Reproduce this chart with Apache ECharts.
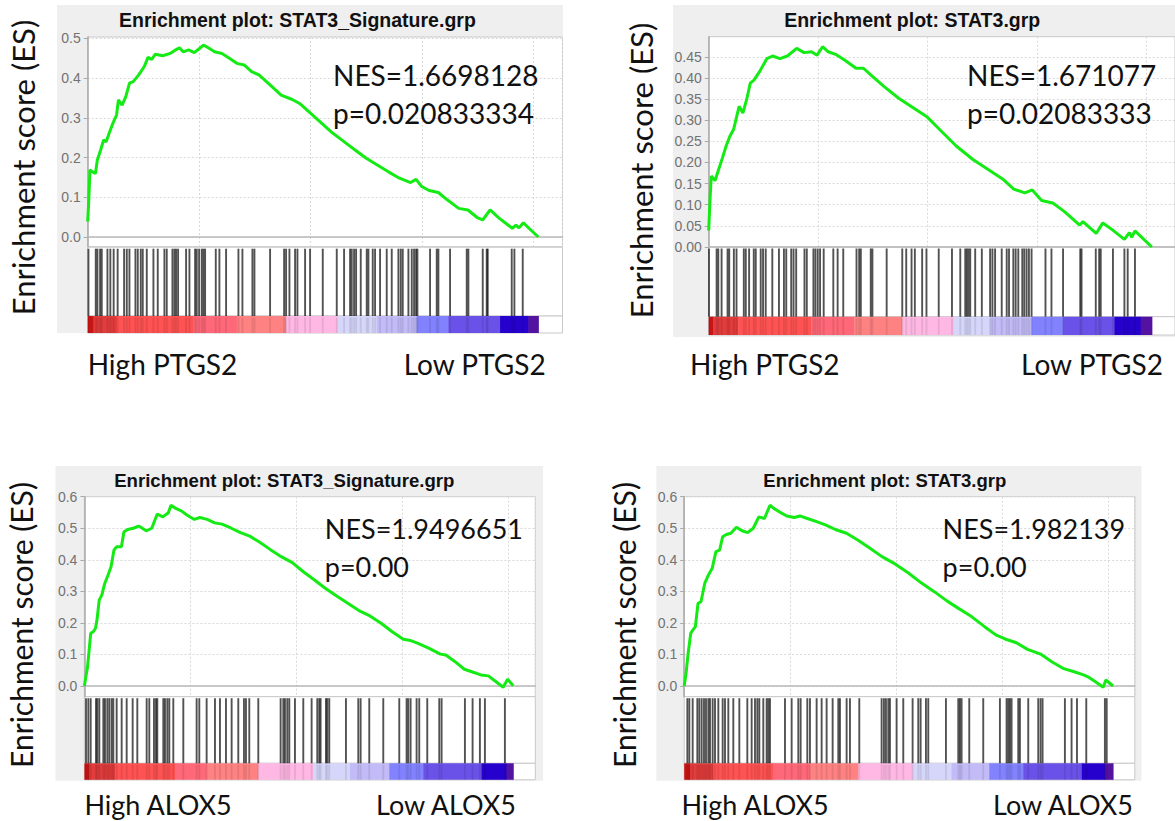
<!DOCTYPE html>
<html><head><meta charset="utf-8">
<script src="https://cdn.jsdelivr.net/npm/echarts@6/dist/echarts.min.js"></script>
<style>html,body{margin:0;padding:0;background:#fff}#c{width:1175px;height:821px}</style>
</head><body><div id="c"></div>
<script>
// ---------------- DATA ----------------
const p1Title = 'Enrichment plot: STAT3_Signature.grp';
const p2Title = 'Enrichment plot: STAT3.grp';
const p3Title = 'Enrichment plot: STAT3_Signature.grp';
const p4Title = 'Enrichment plot: STAT3.grp';
const yLabel = 'Enrichment score (ES)';
const p1Stats = ['NES=1.6698128', 'p=0.020833334'];
const p2Stats = ['NES=1.671077', 'p=0.02083333'];
const p3Stats = ['NES=1.9496651', 'p=0.00'];
const p4Stats = ['NES=1.982139', 'p=0.00'];
const topEnds = ['High PTGS2', 'Low PTGS2'];
const botEnds = ['High ALOX5', 'Low ALOX5'];

const p1YTicks = [0, 0.1, 0.2, 0.3, 0.4, 0.5];
const p2YTicks = [0, 0.05, 0.10, 0.15, 0.20, 0.25, 0.30, 0.35, 0.40, 0.45];
const p3YTicks = [0, 0.1, 0.2, 0.3, 0.4, 0.5, 0.6];
const p4YTicks = [0, 0.1, 0.2, 0.3, 0.4, 0.5, 0.6];

// running enrichment score: gene rank and ES
const p1Rank = [0,50,100,216,349,432,581,714,830,963,1129,1295,1378,1544,1710,1876,2042,2291,2540,2706,2872,3038,3370,3702,3951,4117,4283,4532,4781,5030,5196,5445,5694,6026,6358,6690,7022,7354,7686,8184,8682,9180,9512,10010,10508,11006,11504,12002,12500,12998,13496,13994,14492,14741,14990,15322,15737,16152,16650,17065,17480,17729,18061,18476,19057,19223,19356,19555,19804,20227];
const p1ES = [0.039,0.093,0.169,0.164,0.16,0.194,0.219,0.244,0.24,0.261,0.286,0.307,0.345,0.332,0.353,0.387,0.391,0.408,0.429,0.452,0.447,0.46,0.456,0.462,0.471,0.476,0.466,0.471,0.464,0.475,0.483,0.475,0.466,0.462,0.45,0.437,0.433,0.416,0.408,0.383,0.357,0.346,0.336,0.311,0.286,0.261,0.24,0.219,0.198,0.181,0.164,0.148,0.137,0.145,0.127,0.117,0.112,0.093,0.072,0.068,0.049,0.043,0.068,0.047,0.022,0.03,0.023,0.036,0.022,0];

const p2Rank = [0,68,119,288,458,628,797,967,1136,1391,1560,1730,1900,2069,2323,2663,2917,3256,3596,4020,4359,4698,4952,5206,5461,5800,6224,6733,7072,7496,8005,8684,9362,9955,10634,11312,12075,12754,13432,13941,14450,14789,15213,15722,15968,16272,16954,17104,17709,18013,18467,18998,19225,19330,19480,20253];
const p2ES = [0.039,0.121,0.168,0.157,0.184,0.211,0.239,0.262,0.278,0.333,0.317,0.348,0.388,0.395,0.415,0.446,0.452,0.446,0.452,0.47,0.46,0.462,0.454,0.474,0.462,0.456,0.442,0.423,0.423,0.403,0.38,0.352,0.329,0.309,0.274,0.239,0.207,0.184,0.161,0.137,0.128,0.135,0.110,0.104,0.095,0.083,0.052,0.06,0.032,0.057,0.04,0.018,0.034,0.023,0.038,0];

const p3Rank = [0,70,140,209,297,419,524,593,698,820,960,1117,1256,1396,1518,1745,1867,2042,2303,2565,2914,3176,3438,3699,3961,4083,4310,4572,4834,5183,5444,5793,6142,6491,6928,7364,7800,8236,8760,9283,9807,10330,10854,11377,11901,12424,12948,13471,13995,14518,15042,15391,15740,16263,16787,17049,17485,17921,18270,18704,19055,19404,19754,19963,20229];
const p3ES = [0,0.03,0.056,0.103,0.167,0.172,0.183,0.209,0.272,0.288,0.325,0.352,0.378,0.431,0.441,0.441,0.489,0.496,0.5,0.507,0.492,0.5,0.545,0.536,0.549,0.573,0.563,0.555,0.542,0.528,0.534,0.528,0.517,0.513,0.5,0.486,0.475,0.457,0.433,0.41,0.391,0.362,0.336,0.309,0.285,0.262,0.239,0.222,0.199,0.172,0.148,0.144,0.135,0.119,0.101,0.098,0.077,0.053,0.045,0.035,0.032,0.014,-0.004,0.021,0.001];

const p4Rank = [0,88,176,308,404,527,650,791,967,1143,1319,1494,1670,1811,1987,2198,2461,2725,2989,3252,3516,3780,4043,4219,4483,4835,5186,5450,5802,6241,6681,7120,7648,8175,8702,9318,9933,10548,11164,11779,12394,12922,13537,14152,14679,15119,15646,16174,16789,17317,17844,18371,18811,19075,19426,19743,19866,20205];
const p4ES = [0,0.04,0.098,0.167,0.177,0.188,0.262,0.267,0.325,0.352,0.373,0.426,0.431,0.473,0.48,0.484,0.503,0.492,0.486,0.5,0.536,0.531,0.573,0.563,0.552,0.539,0.534,0.539,0.531,0.521,0.51,0.496,0.484,0.463,0.439,0.41,0.387,0.359,0.327,0.299,0.269,0.246,0.22,0.188,0.162,0.149,0.137,0.116,0.101,0.077,0.056,0.045,0.035,0.027,0.011,-0.004,0.019,0];

// gene-set hit ranks
const p1Hits = [33,362,437,557,631,886,1016,1165,1344,1634,1754,1873,2142,2247,2381,2471,2651,2950,3144,3443,3548,3803,3892,3967,4057,4416,4566,4820,4895,5000,5119,5194,5269,5748,5911,6211,6765,6944,7393,7483,8186,8815,8904,9054,9308,9413,9757,9981,10550,11178,11507,11776,11851,11956,12046,12255,12524,12599,12793,12898,13122,13421,13646,13945,14050,14140,14394,14544,14648,14738,14798,15366,15666,15740,16264,17012,17086,17730,17909,17954,19031,19151,19525];
const p2Hits = [14,362,438,589,862,938,1150,1271,1604,1695,1847,2059,2150,2377,2483,2605,2907,3210,3438,3544,3771,3877,3998,4377,4483,4786,4877,4983,5089,5255,5695,5892,6149,6755,6876,6952,7406,7482,8133,8846,9027,9270,9421,9755,9952,10512,11118,11497,11724,11800,11876,11952,12179,12482,12861,12967,13088,13391,13619,13725,13922,14028,14149,14331,14422,14528,14634,14755,15391,15664,16194,16980,17039,17689,17844,17916,18474,18998,19148,19480];
const p3Hits = [75,185,296,547,610,704,893,971,1082,1176,1286,1364,1522,1758,1994,2276,2496,2937,3062,3282,3377,3439,3722,3801,3911,4005,4194,4666,5294,5420,5766,6159,6395,6678,6945,7259,7527,7621,7778,8203,9256,9382,9460,9570,9665,9932,10325,10718,10985,11079,11142,11394,11457,11551,12337,12919,13029,13437,14098,14852,15198,15277,15387,15670,15795,16173,16739,16849,17949,18311,18656,18892,19835];
const p4Hits = [148,242,399,619,713,823,933,1027,1137,1215,1341,1451,1608,1812,1922,2079,2314,2597,2974,3178,3335,3445,3539,3727,3884,3963,4041,4748,5062,5376,5486,5800,5925,6239,6475,6710,6993,7260,7338,7652,7809,8249,9301,9411,9505,9615,9693,10007,10321,10761,11028,11138,11389,11499,12331,12912,12990,13069,13430,14089,14874,15188,15267,15345,15424,15738,15816,16209,16680,16790,16884,17936,18250,18505,18943,19820,19905];

// ranked-list colour band breakpoints (rank)
const p1Bar = [0,257,1305,4746,6691,8903,11207,12972,14767,16188,18507,19779,20227];
const p2Bar = [0,211,1347,4681,6651,8848,11196,12862,14756,16195,18545,19739,20253];
const p3Bar = [0,233,1443,4273,5766,8203,10796,12526,14381,15985,18735,19915,20229];
const p4Bar = [0,273,1372,4200,5925,8202,10761,12598,14372,15973,18731,19819,20205];

// ---------------- STYLE / LAYOUT ----------------
const BAR_COLORS = ['#c81414','#e23c3c','#ff5252','#ff6878','#ff8282','#ffb8e4','#d6d6fa','#c2bbf7','#8282ff','#6a52e8','#2600cc','#5412a0'];
const TEXT_FONT = 'Lato';

const panels = [
  {title:p1Title, rank:p1Rank, es:p1ES, hits:p1Hits, bar:p1Bar, yTicks:p1YTicks, dec:1, stats:p1Stats, ends:topEnds,
   L:{bg:[57,5,506,328], es:[87.7,37,474.8,209.7], hit:[247.2,68.8], cb:[316,17], yMin:-0.0244, yMax:0.5033, xMax:21310,
      title:[297.4,20,19.5], ylab:[23,167.5], stats:[333,74.5,112.5], hiX:87.7, loX:545.7, endY:364, fs:28}},
  {title:p2Title, rank:p2Rank, es:p2ES, hits:p2Hits, bar:p2Bar, yTicks:p2YTicks, dec:2, stats:p2Stats, ends:topEnds,
   L:{bg:[673,5,520,332], es:[708.7,36.7,468.8,210.3], hit:[247,69.7], cb:[316.7,18.3], yMin:0, yMax:0.4977, xMax:21310,
      title:[912.2,20,19.5], ylab:[641,170.5], stats:[967,75,113.3], hiX:690, loX:1163, endY:364, fs:28}},
  {title:p3Title, rank:p3Rank, es:p3ES, hits:p3Hits, bar:p3Bar, yTicks:p3YTicks, dec:1, stats:p3Stats, ends:botEnds,
   L:{bg:[55.5,466,487.6,314.7], es:[84.4,496.7,450.9,200], hit:[696.7,66.6], cb:[763.3,16.5], yMin:-0.034, yMax:0.6, xMax:21269,
      title:[284.3,480,18.6], ylab:[21.3,625], stats:[324.8,528.7,566.7], hiX:84.4, loX:516, endY:804.3, fs:27}},
  {title:p4Title, rank:p4Rank, es:p4ES, hits:p4Hits, bar:p4Bar, yTicks:p4YTicks, dec:1, stats:p4Stats, ends:botEnds,
   L:{bg:[656.4,466,485.1,314.7], es:[684.2,496.7,450.6,200], hit:[696.7,66.6], cb:[763.3,16.5], yMin:-0.034, yMax:0.6, xMax:21229,
      title:[884.8,480,18.5], ylab:[623.6,625], stats:[942.6,528.7,566.7], hiX:681.4, loX:1133, endY:804.3, fs:27}}
];

const grids = [], xAxes = [], yAxes = [], series = [], graphics = [];
const GRID_BORDER = '#c9c9c9';
const SPLIT = {show:true, lineStyle:{color:'#d9d9d9', type:[2,2], width:1}};

function txt(text, x, y, font, align, extra) {
  return Object.assign({type:'text', x:x, y:y, z:100,
    style:{text:text, font:font, fill:'#111', align:align, textAlign:align, verticalAlign:'middle', textVerticalAlign:'middle'}}, extra || {});
}

function hitSeries(gi, hits, stroke, width) {
  return {type:'custom', xAxisIndex:gi, yAxisIndex:gi, data:hits.map(h => [h, 0]), encode:{x:0, y:1},
    animation:false, silent:true, z:4,
    renderItem:(params, api) => {
      const a = api.coord([api.value(0), 0]);
      const b = api.coord([api.value(0), 1]);
      return {type:'line', shape:{x1:a[0], y1:a[1], x2:b[0], y2:b[1] + 1.5},
        style:{stroke:stroke, lineWidth:width}};
    }};
}

panels.forEach((p, i) => {
  const L = p.L;
  const [eL, eT, eW, eH] = L.es;
  const g = i * 3;
  graphics.push({type:'rect', z:-10, shape:{x:L.bg[0], y:L.bg[1], width:L.bg[2], height:L.bg[3]}, style:{fill:'#efefef'}});

  grids.push({left:eL, top:eT, width:eW, height:eH, show:true, backgroundColor:'#fff', borderColor:GRID_BORDER, borderWidth:1, containLabel:false});
  grids.push({left:eL, top:L.hit[0], width:eW, height:L.hit[1], show:true, backgroundColor:'#fff', borderColor:GRID_BORDER, borderWidth:1});
  grids.push({left:eL, top:L.cb[0], width:eW, height:L.cb[1], show:true, backgroundColor:'#fff', borderColor:GRID_BORDER, borderWidth:1});

  // ES axes
  xAxes.push({gridIndex:g, type:'value', min:0, max:L.xMax, interval:5000,
    axisLabel:{show:false}, axisTick:{show:false},
    axisLine:{show:true, onZero:true, lineStyle:{color:'#b9b9b9', width:1.5}},
    splitLine:SPLIT});
  yAxes.push({gridIndex:g, type:'value', min:L.yMin, max:L.yMax,
    axisLine:{show:true, lineStyle:{color:'#a9a9a9', width:1.5}},
    axisTick:{show:true, length:4, customValues:p.yTicks, lineStyle:{color:'#a9a9a9'}},
    axisLabel:{show:true, customValues:p.yTicks, formatter:(v) => Number(v).toFixed(p.dec),
      color:'#727272', fontSize:14, fontFamily:'Liberation Sans', margin:7},
    splitLine:SPLIT});
  // hit + colour band axes
  [g + 1, g + 2].forEach(gi => {
    xAxes.push({gridIndex:gi, type:'value', min:0, max:L.xMax, show:false, splitLine:{show:false}});
    yAxes.push({gridIndex:gi, type:'value', min:0, max:1, show:false, splitLine:{show:false}});
  });

  series.push({type:'line', xAxisIndex:g, yAxisIndex:g, data:p.rank.map((r, k) => [r, p.es[k]]),
    showSymbol:false, symbol:'none', lineStyle:{color:'#14ea14', width:3}, z:5, animation:false, silent:true});

  series.push(hitSeries(g + 1, p.hits, 'rgba(0,0,0,0.68)', 1.9));

  const segs = [];
  for (let k = 0; k < p.bar.length - 1; k++) segs.push([p.bar[k], p.bar[k + 1], k]);
  series.push({type:'custom', xAxisIndex:g + 2, yAxisIndex:g + 2, data:segs, encode:{x:[0, 1]},
    animation:false, silent:true, z:2,
    renderItem:(params, api) => {
      const a = api.coord([api.value(0), 0]);
      const b = api.coord([api.value(1), 1]);
      return {type:'rect', shape:{x:a[0], y:b[1], width:b[0] - a[0] + 0.5, height:a[1] - b[1]},
        style:{fill:BAR_COLORS[api.value(2)]}};
    }});
  // faint hit shadows inside the colour band
  series.push(hitSeries(g + 2, p.hits, 'rgba(0,0,0,0.09)', 1.9));

  // texts
  graphics.push(txt(p.title, L.title[0], L.title[1], 'bold ' + L.title[2] + 'px "Liberation Sans"', 'center'));
  graphics.push(txt(yLabel, L.ylab[0], L.ylab[1], (L.fs + 3) + 'px ' + TEXT_FONT, 'center', {rotation:Math.PI / 2}));
  graphics.push(txt(p.stats[0], L.stats[0], L.stats[1], L.fs + 'px ' + TEXT_FONT, 'left'));
  graphics.push(txt(p.stats[1], L.stats[0], L.stats[2], L.fs + 'px ' + TEXT_FONT, 'left'));
  graphics.push(txt(p.ends[0], L.hiX, L.endY, L.fs + 'px ' + TEXT_FONT, 'left'));
  graphics.push(txt(p.ends[1], L.loX, L.endY, L.fs + 'px ' + TEXT_FONT, 'right'));
});

const chart = echarts.init(document.getElementById('c'), null, {renderer:'svg', width:1175, height:821});
chart.setOption({
  backgroundColor:'#ffffff',
  animation:false,
  grid:grids, xAxis:xAxes, yAxis:yAxes, series:series,
  graphic:{elements:graphics}
});
</script>
</body></html>
